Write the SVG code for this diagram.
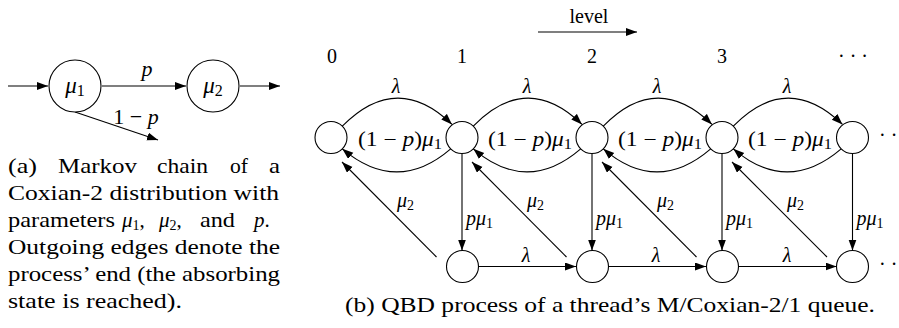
<svg xmlns="http://www.w3.org/2000/svg" width="899" height="328" viewBox="0 0 899 328" font-family="'Liberation Serif', 'DejaVu Serif', serif">
<style>
text{font-family:"Liberation Serif","DejaVu Serif",serif;fill:#000}
.t{font-size:20px}
.c{font-size:21px}
.m{font-style:italic}
.s{font-size:14px;font-style:normal}
.l{font-size:20px}
.node{fill:#fff;stroke:#000;stroke-width:1.1}
.e{fill:none;stroke:#000;stroke-width:1.1;marker-end:url(#ah)}
</style>
<defs>
<marker id="ah" markerUnits="userSpaceOnUse" markerWidth="12" markerHeight="9" refX="11" refY="4" orient="auto">
<path d="M0,0 L11,4 L0,8 z" fill="#000"/>
</marker>
</defs>

<!-- (a) Coxian-2 -->
<g id="a-connectors">
<path class="e" d="M8,86 L48,86"/>
<path class="e" d="M102,86 L186,86"/>
<path class="e" d="M240,86 L280,86"/>
<path class="e" d="M75,112 L158,140"/>
</g>
<g id="a-mu1"><circle class="node" cx="75" cy="86" r="26"/><text x="75" y="93" font-size="23" text-anchor="middle"><tspan class="m">μ</tspan><tspan font-size="16" dy="3">1</tspan></text></g>
<g id="a-mu2"><circle class="node" cx="213" cy="86" r="26"/><text x="213" y="93" font-size="23" text-anchor="middle"><tspan class="m">μ</tspan><tspan font-size="16" dy="3">2</tspan></text></g>
<text class="m" font-size="22" x="147" y="76" text-anchor="middle">p</text>
<text font-size="22" x="136" y="124" text-anchor="middle">1 − <tspan class="m">p</tspan></text>

<g id="caption-a">
<text class="c" y="173"><tspan x="8" textLength="29" lengthAdjust="spacingAndGlyphs">(a)</tspan><tspan x="58" textLength="79" lengthAdjust="spacingAndGlyphs">Markov</tspan><tspan x="157" textLength="51" lengthAdjust="spacingAndGlyphs">chain</tspan><tspan x="230" textLength="18" lengthAdjust="spacingAndGlyphs">of</tspan><tspan x="269" textLength="11" lengthAdjust="spacingAndGlyphs">a</tspan></text>
<text class="c" x="8" y="200" textLength="271" lengthAdjust="spacingAndGlyphs">Coxian-2 distribution with</text>
<text class="c" y="227"><tspan x="8" textLength="107" lengthAdjust="spacingAndGlyphs">parameters</tspan><tspan x="122" class="m">μ</tspan><tspan class="s" dy="3">1</tspan><tspan dy="-3">,</tspan><tspan x="159" class="m">μ</tspan><tspan class="s" dy="3">2</tspan><tspan dy="-3">,</tspan><tspan x="200" textLength="35" lengthAdjust="spacingAndGlyphs">and</tspan><tspan x="254" class="m">p</tspan><tspan>.</tspan></text>
<text class="c" x="8" y="254" textLength="272" lengthAdjust="spacingAndGlyphs">Outgoing edges denote the</text>
<text class="c" x="8" y="281" textLength="272" lengthAdjust="spacingAndGlyphs">process’ end (the absorbing</text>
<text class="c" x="8" y="308" textLength="174" lengthAdjust="spacingAndGlyphs">state is reached).</text>
</g>

<!-- (b) QBD -->
<text class="t" x="589" y="23" text-anchor="middle">level</text>
<path class="e" d="M538,32 L637,32"/>
<text class="t" x="332" y="63" text-anchor="middle">0</text>
<text class="t" x="462" y="63" text-anchor="middle">1</text>
<text class="t" x="592" y="63" text-anchor="middle">2</text>
<text class="t" x="722" y="63" text-anchor="middle">3</text>
<text class="t" x="853" y="63" text-anchor="middle">· · ·</text>

<g id="connectors">
<path class="e" d="M342.3,126.2 Q397,71 452,124.4"/>
<path class="e" d="M473.3,126.2 Q527,71 582,124.4"/>
<path class="e" d="M603.3,126.2 Q657,71 712,124.4"/>
<path class="e" d="M733.3,126.2 Q787,71 842.5,124.4"/>
<path class="e" d="M450.7,148.8 Q397,195 342.3,148.8"/>
<path class="e" d="M580.7,148.8 Q527,195 473.3,148.8"/>
<path class="e" d="M710.7,148.8 Q657,195 603.3,148.8"/>
<path class="e" d="M841.2,148.8 Q787,195 733.3,148.8"/>
<path class="e" d="M462,153.5 L462,250.5"/>
<path class="e" d="M592,153.5 L592,250.5"/>
<path class="e" d="M722,153.5 L722,250.5"/>
<path class="e" d="M852.5,153.5 L852.5,250.5"/>
<path class="e" d="M436.5,257 L342,162"/>
<path class="e" d="M566.5,257 L472,162"/>
<path class="e" d="M696.5,257 L602,162"/>
<path class="e" d="M827,257 L732,162"/>
<path class="e" d="M478.5,266.5 L576,266.5"/>
<path class="e" d="M608.5,266.5 L706,266.5"/>
<path class="e" d="M738.5,266.5 L836.5,266.5"/>
</g>

<g id="labels">
<text class="l m" x="396" y="93" text-anchor="middle">λ</text>
<text class="l m" x="527" y="93" text-anchor="middle">λ</text>
<text class="l m" x="657" y="93" text-anchor="middle">λ</text>
<text class="l m" x="787" y="93" text-anchor="middle">λ</text>
<text class="l" x="400" y="146" text-anchor="middle" textLength="84" lengthAdjust="spacingAndGlyphs">(1 − <tspan class="m">p</tspan>)<tspan class="m">μ</tspan><tspan class="s" dy="3">1</tspan></text>
<text class="l" x="530" y="146" text-anchor="middle" textLength="84" lengthAdjust="spacingAndGlyphs">(1 − <tspan class="m">p</tspan>)<tspan class="m">μ</tspan><tspan class="s" dy="3">1</tspan></text>
<text class="l" x="660" y="146" text-anchor="middle" textLength="84" lengthAdjust="spacingAndGlyphs">(1 − <tspan class="m">p</tspan>)<tspan class="m">μ</tspan><tspan class="s" dy="3">1</tspan></text>
<text class="l" x="790" y="146" text-anchor="middle" textLength="84" lengthAdjust="spacingAndGlyphs">(1 − <tspan class="m">p</tspan>)<tspan class="m">μ</tspan><tspan class="s" dy="3">1</tspan></text>
<text class="l" x="466" y="225"><tspan class="m">pμ</tspan><tspan class="s" dy="3">1</tspan></text>
<text class="l" x="596" y="225"><tspan class="m">pμ</tspan><tspan class="s" dy="3">1</tspan></text>
<text class="l" x="726" y="225"><tspan class="m">pμ</tspan><tspan class="s" dy="3">1</tspan></text>
<text class="l" x="856.5" y="225"><tspan class="m">pμ</tspan><tspan class="s" dy="3">1</tspan></text>
<text class="l" x="397" y="207"><tspan class="m">μ</tspan><tspan class="s" dy="3">2</tspan></text>
<text class="l" x="527" y="207"><tspan class="m">μ</tspan><tspan class="s" dy="3">2</tspan></text>
<text class="l" x="657" y="207"><tspan class="m">μ</tspan><tspan class="s" dy="3">2</tspan></text>
<text class="l" x="787" y="207"><tspan class="m">μ</tspan><tspan class="s" dy="3">2</tspan></text>
<text class="l m" x="526" y="262" text-anchor="middle">λ</text>
<text class="l m" x="656" y="262" text-anchor="middle">λ</text>
<text class="l m" x="787" y="262" text-anchor="middle">λ</text>
<text class="t" x="879" y="142">· ·</text>
<text class="t" x="879" y="271">· ·</text>
</g>

<g id="n0-1"><circle class="node" cx="331" cy="137.5" r="16"/></g>
<g id="n1-1"><circle class="node" cx="462" cy="137.5" r="16"/></g>
<g id="n2-1"><circle class="node" cx="592" cy="137.5" r="16"/></g>
<g id="n3-1"><circle class="node" cx="722" cy="137.5" r="16"/></g>
<g id="n4-1"><circle class="node" cx="852.5" cy="137.5" r="16"/></g>
<g id="n1-2"><circle class="node" cx="462.5" cy="266.5" r="16"/></g>
<g id="n2-2"><circle class="node" cx="592.5" cy="266.5" r="16"/></g>
<g id="n3-2"><circle class="node" cx="722.5" cy="266.5" r="16"/></g>
<g id="n4-2"><circle class="node" cx="852.5" cy="266.5" r="16"/></g>

<text class="c" x="345" y="312" textLength="530" lengthAdjust="spacingAndGlyphs">(b) QBD process of a thread’s M/Coxian-2/1 queue.</text>
</svg>
